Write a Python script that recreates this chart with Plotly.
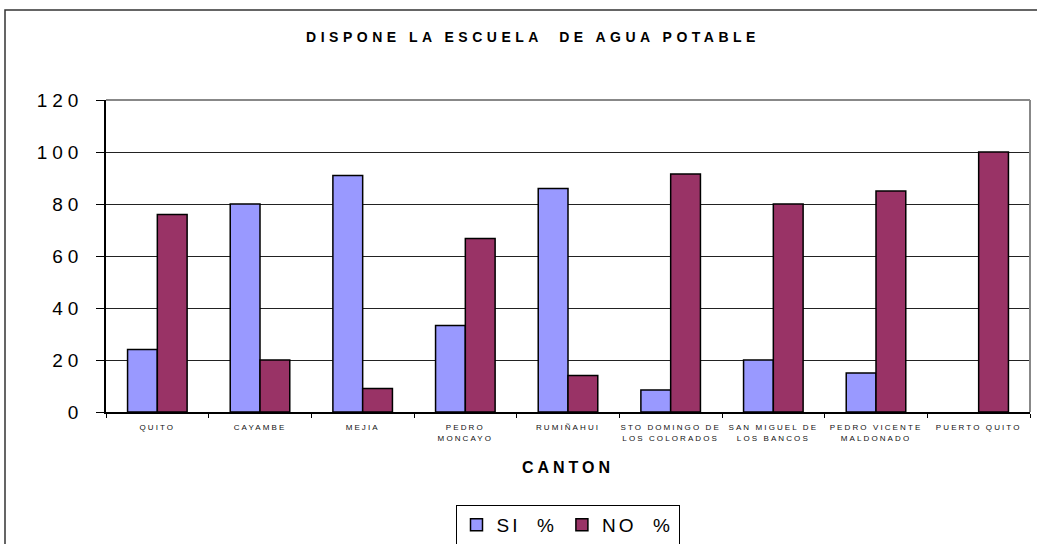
import plotly.graph_objects as go

categories = ["QUITO", "CAYAMBE", "MEJIA", "PEDRO MONCAYO", "RUMIÑAHUI",
              "STO DOMINGO DE LOS COLORADOS", "SAN MIGUEL DE LOS BANCOS",
              "PEDRO VICENTE MALDONADO", "PUERTO QUITO"]
tick_lines = [["QUITO"], ["CAYAMBE"], ["MEJIA"], ["PEDRO", "MONCAYO"], ["RUMIÑAHUI"],
              ["STO DOMINGO DE", "LOS COLORADOS"], ["SAN MIGUEL DE", "LOS BANCOS"],
              ["PEDRO VICENTE", "MALDONADO"], ["PUERTO QUITO"]]
si_pct = [24, 80, 91, 33.3, 86, 8.5, 20, 15, 0]
no_pct = [76, 20, 9, 66.7, 14, 91.5, 80, 85, 100]
y_ticks = [0, 20, 40, 60, 80, 100, 120]

W, H = 1037, 544
L, R, T, B = 106, 1030, 100, 412  # plot area pixels
pw, ph = R - L, B - T


def px(x):
    return (x - L) / pw


def py(y):
    return (B - y) / ph


def spaced(text, ls):
    return f'<span style="letter-spacing:{ls}px">{text}</span>'


FONT = "Liberation Sans, Arial, sans-serif"

x_ticktext = ["<br>".join(spaced(t, 2.1) for t in lines) for lines in tick_lines]
y_ticktext = [spaced(str(v), 5) for v in y_ticks]

fig = go.Figure()
fig.add_trace(go.Bar(x=categories, y=si_pct, name=spaced("SI  %", 3),
                     marker=dict(color="#9999FF",
                                 line=dict(color="#000000",
                                           width=[1.5 if v else 0 for v in si_pct]))))
fig.add_trace(go.Bar(x=categories, y=no_pct, name=spaced("NO  %", 3),
                     marker=dict(color="#993366",
                                 line=dict(color="#000000",
                                           width=[1.5 if v else 0 for v in no_pct]))))

fig.update_layout(
    width=W, height=H,
    margin=dict(l=L, r=W - R, t=T, b=H - B, autoexpand=False),
    paper_bgcolor="white", plot_bgcolor="white",
    barmode="group", bargap=0.42, bargroupgap=0,
    font=dict(family=FONT, color="black"),
    title=dict(text="<b>" + spaced("DISPONE LA ESCUELA  DE AGUA POTABLE", 4.5) + "</b>",
               x=533 / W, xref="container", xanchor="center",
               y=1 - 37 / H, yref="container", yanchor="middle",
               font=dict(family=FONT, size=14, color="black")),
    xaxis=dict(tickmode="array", tickvals=categories, ticktext=x_ticktext,
               tickson="boundaries", ticks="outside", ticklen=4, tickcolor="black",
               tickangle=0, ticklabelstandoff=7,
               showline=True, linecolor="black", linewidth=1.5,
               showgrid=False, automargin=False,
               tickfont=dict(family=FONT, size=8, color="#111111"),
               title=dict(text="<b>" + spaced("CANTON", 4) + "</b>",
                          font=dict(family=FONT, size=16, color="black"),
                          standoff=20)),
    yaxis=dict(range=[0, 120], tickmode="array", tickvals=y_ticks, ticktext=y_ticktext,
               ticks="outside", ticklen=8, tickcolor="black", ticklabelstandoff=9,
               showline=True, linecolor="black", linewidth=1.5,
               showgrid=True, gridcolor="#222", gridwidth=1,
               zeroline=False, automargin=False,
               tickfont=dict(family=FONT, size=19, color="black")),
    legend=dict(orientation="h", x=px(567.5), xanchor="center", y=py(505), yanchor="top",
                bordercolor="#000000", borderwidth=1, bgcolor="white",
                font=dict(family=FONT, size=19, color="black"),
                itemwidth=30, traceorder="normal"),
    showlegend=True,
)

# plot-area border top and right (gray)
fig.add_shape(type="line", xref="paper", yref="paper", x0=0, x1=1, y0=1, y1=1,
              line=dict(color="#888888", width=2))
fig.add_shape(type="line", xref="paper", yref="paper", x0=1, x1=1, y0=0, y1=1,
              line=dict(color="#888888", width=2))
# outer chart frame
fig.add_shape(type="rect", xref="paper", yref="paper",
              x0=px(5), x1=px(1045), y0=py(10), y1=py(560),
              line=dict(color="#333333", width=1.5), layer="below")

fig.write_html("out.html", config={"displayModeBar": False},
               post_script="document.body.style.margin='0';"
                           "document.body.style.overflow='hidden';")
